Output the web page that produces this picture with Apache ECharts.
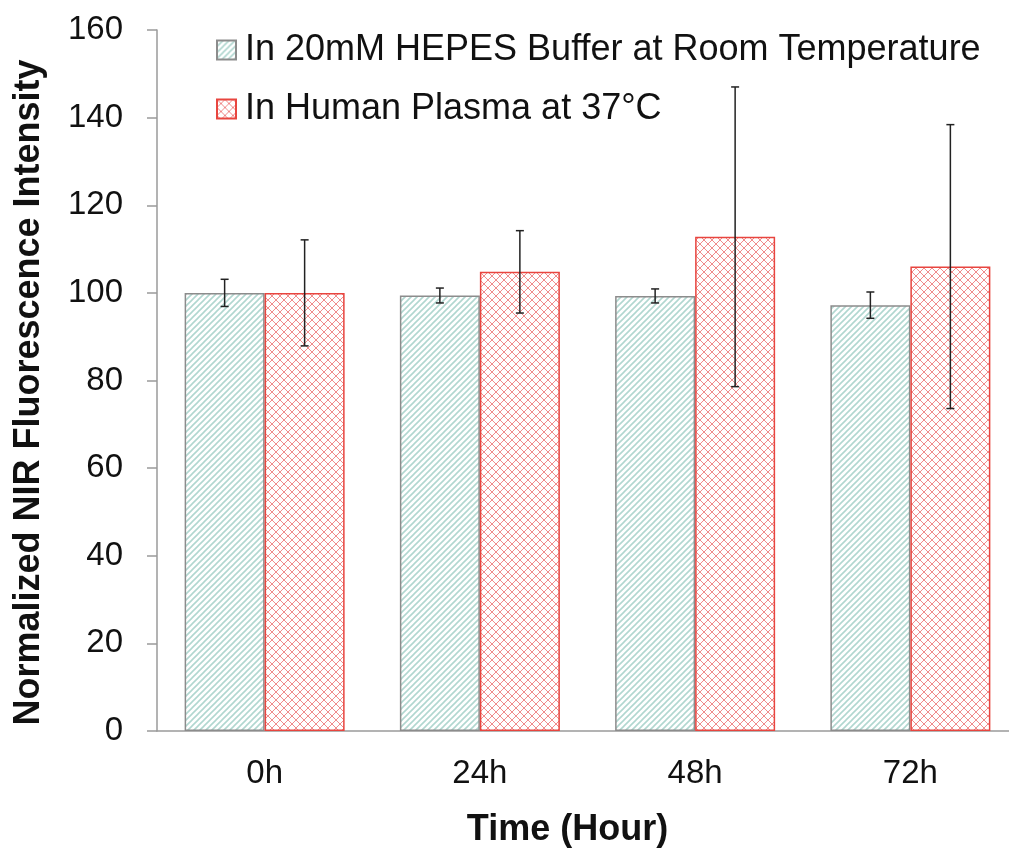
<!DOCTYPE html>
<html>
<head>
<meta charset="utf-8">
<script src="https://cdn.jsdelivr.net/npm/echarts@6/dist/echarts.min.js"></script>
<style>html,body{margin:0;background:#fff}#chart{width:1009px;height:850px}</style>
</head>
<body>
<div id="chart"></div>
<script>
var categories = ['0h', '24h', '48h', '72h'];
var hepesValues = [100, 99.4, 99.3, 97.2];
var hepesErrors = [3.1, 1.7, 1.6, 3.0];
var plasmaValues = [100, 104.8, 112.8, 106.0];
var plasmaErrors = [12.1, 9.4, 34.2, 32.4];
var seriesNames = ['In 20mM HEPES Buffer at Room Temperature', 'In Human Plasma at 37°C'];

function hatchPattern() {
	var c = document.createElement('canvas');
	c.width = 6; c.height = 6;
	var ctx = c.getContext('2d');
	ctx.fillStyle = '#fff';
	ctx.fillRect(0, 0, 6, 6);
	ctx.strokeStyle = '#b1d7d0';
	ctx.lineWidth = 1.6;
	ctx.beginPath();
	ctx.moveTo(0, 6); ctx.lineTo(6, 0);
	ctx.moveTo(-2, 2); ctx.lineTo(2, -2);
	ctx.moveTo(4, 8); ctx.lineTo(8, 4);
	ctx.stroke();
	return c;
}

function crossPattern() {
	var c = document.createElement('canvas');
	c.width = 8; c.height = 8;
	var ctx = c.getContext('2d');
	ctx.fillStyle = '#fff';
	ctx.fillRect(0, 0, 8, 8);
	ctx.strokeStyle = '#f08c8c';
	ctx.lineWidth = 1;
	ctx.beginPath();
	ctx.moveTo(0, 0); ctx.lineTo(8, 8);
	ctx.moveTo(0, 8); ctx.lineTo(8, 0);
	ctx.stroke();
	return c;
}

function errorData(values, errors) {
	return values.map(function (v, i) { return [i, v - errors[i], v + errors[i]]; });
}

function errorSeries(values, errors, offset) {
	return {
		type: 'custom',
		silent: true,
		z: 10,
		data: errorData(values, errors),
		renderItem: function (params, api) {
			var lo = api.coord([api.value(0), api.value(1)]);
			var hi = api.coord([api.value(0), api.value(2)]);
			var x = lo[0] + offset;
			var cap = 4;
			var style = { stroke: '#222', lineWidth: 1.5 };
			return {
				type: 'group',
				children: [
					{ type: 'line', shape: { x1: x, y1: lo[1], x2: x, y2: hi[1] }, style: style },
					{ type: 'line', shape: { x1: x - cap, y1: lo[1], x2: x + cap, y2: lo[1] }, style: style },
					{ type: 'line', shape: { x1: x - cap, y1: hi[1], x2: x + cap, y2: hi[1] }, style: style }
				]
			};
		}
	};
}

var chart = echarts.init(document.getElementById('chart'));

var option = {
	backgroundColor: '#fff',
	animation: false,
	textStyle: { fontFamily: 'Arial, "Liberation Sans", sans-serif', color: '#111' },
	grid: { left: 157, right: -9, top: 30, bottom: 119, containLabel: false, outerBoundsMode: 'none' },
	legend: {
		data: seriesNames,
		orient: 'vertical',
		icon: 'rect',
		left: 216,
		top: 32,
		padding: 0,
		itemWidth: 19,
		itemHeight: 19,
		itemGap: 23,
		textStyle: { fontSize: 36, color: '#111', padding: [0, 0, 0, 4] }
	},
	xAxis: {
		type: 'category',
		data: categories,
		name: 'Time (Hour)',
		nameLocation: 'middle',
		nameGap: 81,
		nameTextStyle: { fontSize: 36, fontWeight: 'bold', color: '#111', padding: [0, 40, 0, 0] },
		axisLine: { lineStyle: { color: '#9a9a9a', width: 1.5 } },
		axisTick: { interval: 0, length: 11, lineStyle: { color: '#9a9a9a', width: 1.5 } },
		axisLabel: { fontSize: 33, color: '#111', margin: 26 }
	},
	yAxis: {
		type: 'value',
		min: 0,
		max: 160,
		interval: 20,
		name: 'Normalized NIR Fluorescence Intensity',
		nameLocation: 'middle',
		nameGap: 110,
		nameTextStyle: { fontSize: 36, fontWeight: 'bold', color: '#111', padding: [0, 24, 0, 0] },
		axisLine: { show: true, lineStyle: { color: '#9a9a9a', width: 1.5 } },
		axisTick: { show: true, length: 10, lineStyle: { color: '#9a9a9a', width: 1.5 } },
		axisLabel: { fontSize: 33, color: '#111', margin: 34 },
		splitLine: { show: false }
	},
	series: [
		{
			name: seriesNames[0],
			type: 'bar',
			barWidth: 80,
			barGap: '0%',
			data: hepesValues,
			itemStyle: { color: { image: hatchPattern(), repeat: 'repeat' }, borderColor: '#8c8c8c', borderWidth: 1.5 }
		},
		{
			name: seriesNames[1],
			type: 'bar',
			barWidth: 80,
			barGap: '0%',
			data: plasmaValues,
			itemStyle: { color: { image: crossPattern(), repeat: 'repeat' }, borderColor: '#e8453f', borderWidth: 1.5 }
		},
		errorSeries(hepesValues, hepesErrors, -40),
		errorSeries(plasmaValues, plasmaErrors, 40)
	]
};

chart.setOption(option);
</script>
</body>
</html>
